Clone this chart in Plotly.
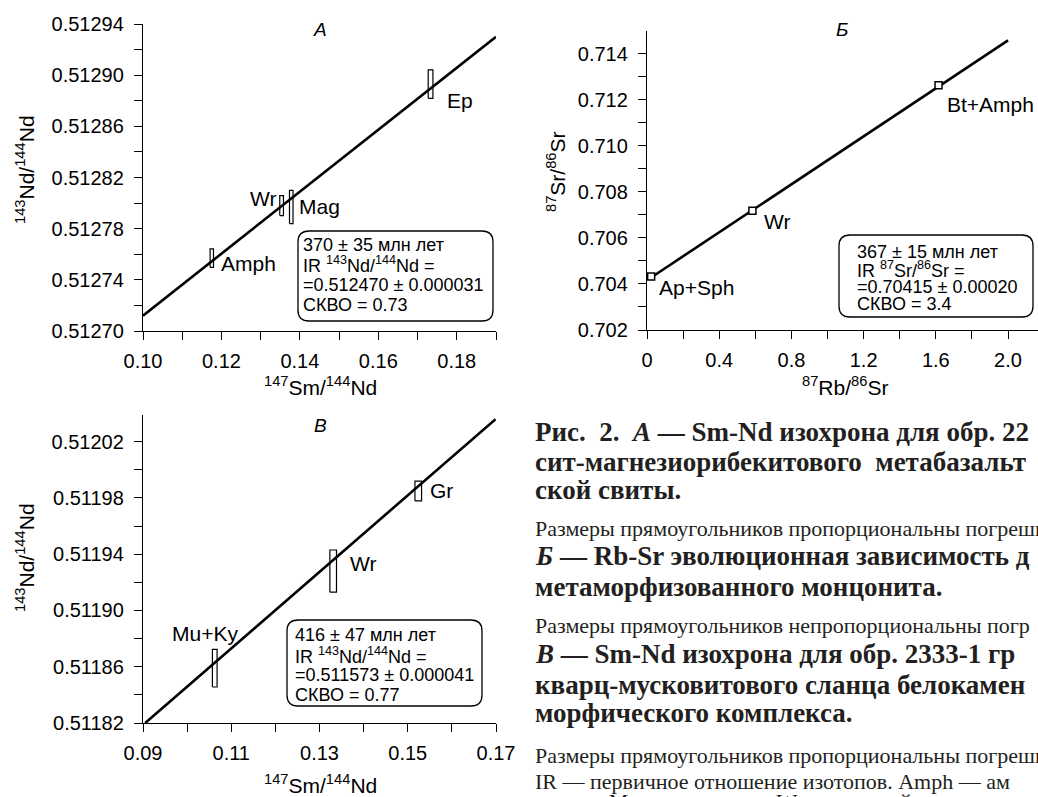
import plotly.graph_objects as go

W, H = 1038, 797

# ---------------- Data ----------------
# Panel A: Sm-Nd isochron
a_labels = ["Amph", "Wr", "Mag", "Ep"]
a_x = [0.11754, 0.13534, 0.13780, 0.17332]
a_y = [0.512757, 0.512798, 0.512797, 0.512893]
a_dx = [0.00043, 0.00047, 0.00045, 0.00060]
a_dy = [0.0000072, 0.0000078, 0.0000130, 0.0000111]
a_line_x = [0.10, 0.19]
a_line_y = [0.512712, 0.512930]

# Panel Б: Rb-Sr
b_labels = ["Ap+Sph", "Wr", "Bt+Amph"]
b_x = [0.023, 0.584, 1.615]
b_y = [0.70432, 0.70718, 0.71262]
b_line_x = [0.023, 2.0]
b_line_y = [0.70428, 0.71457]
b_xticks = [0, 0.4, 0.8, 1.2, 1.6, 2.0]
b_xticktext = ["0", "0.4", "0.8", "1.2", "1.6", "2.0"]

# Panel В: Sm-Nd isochron
c_labels = ["Mu+Ky", "Wr", "Gr"]
c_x = [0.10626, 0.1331, 0.15238]
c_y = [0.511859, 0.511928, 0.511985]
c_dx = [0.00053, 0.00075, 0.00075]
c_dy = [0.0000134, 0.0000150, 0.0000070]
c_line_x = [0.0905, 0.1699]
c_line_y = [0.511820, 0.512036]

# ---------------- helpers ----------------
def px(xp):
    return xp / W

def py(yp):
    return 1 - yp / H

def rect_poly(xs, ys, dxs, dys):
    X, Y = [], []
    for x, y, dx, dy in zip(xs, ys, dxs, dys):
        X += [x - dx, x + dx, x + dx, x - dx, x - dx, None]
        Y += [y - dy, y - dy, y + dy, y + dy, y - dy, None]
    return X, Y

def rounded_box(x0, y0, x1, y1, r=11):
    rx, ry = r / W, r / H
    X0, X1 = px(x0), px(x1)
    Y0, Y1 = py(y0), py(y1)
    return (f"M {X0+rx},{Y0} L {X1-rx},{Y0} Q {X1},{Y0} {X1},{Y0-ry} "
            f"L {X1},{Y1+ry} Q {X1},{Y1} {X1-rx},{Y1} "
            f"L {X0+rx},{Y1} Q {X0},{Y1} {X0},{Y1+ry} "
            f"L {X0},{Y0-ry} Q {X0},{Y0} {X0+rx},{Y0} Z")

SANS = "Liberation Sans, Arial, sans-serif"
SERIF = "Liberation Serif, Times New Roman, serif"

fig = go.Figure()

# ---- Panel A ----
fig.add_trace(go.Scatter(x=a_line_x, y=a_line_y, mode="lines",
                         line=dict(color="black", width=2.6),
                         xaxis="x", yaxis="y", showlegend=False, hoverinfo="skip"))
rx_, ry_ = rect_poly(a_x, a_y, a_dx, a_dy)
fig.add_trace(go.Scatter(x=rx_, y=ry_, mode="lines", line=dict(color="black", width=1.2),
                         xaxis="x", yaxis="y", showlegend=False, hoverinfo="skip"))

# ---- Panel Б ----
fig.add_trace(go.Scatter(x=b_line_x, y=b_line_y, mode="lines",
                         line=dict(color="black", width=2.6),
                         xaxis="x2", yaxis="y2", showlegend=False, hoverinfo="skip"))
fig.add_trace(go.Scatter(x=b_x, y=b_y, mode="markers",
                         marker=dict(symbol="square", size=7, color="white",
                                     line=dict(color="black", width=1.5)),
                         xaxis="x2", yaxis="y2", showlegend=False, hoverinfo="skip"))

# ---- Panel В ----
fig.add_trace(go.Scatter(x=c_line_x, y=c_line_y, mode="lines",
                         line=dict(color="black", width=2.6),
                         xaxis="x3", yaxis="y3", showlegend=False, hoverinfo="skip"))
rx_, ry_ = rect_poly(c_x, c_y, c_dx, c_dy)
fig.add_trace(go.Scatter(x=rx_, y=ry_, mode="lines", line=dict(color="black", width=1.2),
                         xaxis="x3", yaxis="y3", showlegend=False, hoverinfo="skip"))

axis_common = dict(showline=True, linecolor="black", linewidth=1.3, ticks="outside",
                   tickcolor="black", tickwidth=1.3, ticklen=8, showgrid=False,
                   zeroline=False, mirror=False, automargin=False,
                   tickfont=dict(family=SANS, size=20, color="black"),
                   fixedrange=True)

def minor(dt, t0):
    return dict(ticks="outside", ticklen=8, tickcolor="black", tickwidth=1.3,
                dtick=dt, tick0=t0, showgrid=False)

fig.update_layout(
    template="none",
    width=W, height=H, margin=dict(l=0, r=0, t=0, b=0, autoexpand=False),
    paper_bgcolor="white", plot_bgcolor="white", showlegend=False,
    xaxis=dict(axis_common, domain=[px(143), px(496)], range=[0.10, 0.19],
               tick0=0.10, dtick=0.02, tickformat=".2f", minor=minor(0.01, 0.10),
               anchor="y", ticklabelstandoff=4),
    yaxis=dict(axis_common, domain=[py(331), py(24)], range=[0.51270, 0.51294],
               tick0=0.51270, dtick=0.00004, tickformat=".5f", minor=minor(0.00002, 0.51270),
               anchor="x", ticklabelstandoff=6),
    xaxis2=dict(axis_common, domain=[px(647), 1.0], range=[0, 2.166],
                tickvals=b_xticks, ticktext=b_xticktext, minor=minor(0.2, 0),
                anchor="y2", ticklabelstandoff=4),
    yaxis2=dict(axis_common, domain=[py(330), py(31)], range=[0.702, 0.71498],
                tick0=0.702, dtick=0.002, tickformat=".3f", minor=minor(0.001, 0.702),
                anchor="x2", ticklabelstandoff=6),
    xaxis3=dict(axis_common, domain=[px(143), px(496)], range=[0.09, 0.17],
                tick0=0.09, dtick=0.02, tickformat=".2f", minor=minor(0.01, 0.09),
                anchor="y3", ticklabelstandoff=4),
    yaxis3=dict(axis_common, domain=[py(723), py(415)], range=[0.51182, 0.512039],
                tick0=0.51182, dtick=0.00004, tickformat=".5f", minor=minor(0.00002, 0.51182),
                anchor="x3", ticklabelstandoff=6),
)

ann = []
def A(**kw):
    base = dict(showarrow=False, font=dict(family=SANS, size=21, color="black"))
    base.update(kw)
    ann.append(base)

# point labels (data coords)
offs_a = [("left", 7, -5), ("right", -4, 7), ("left", 6, 0), ("left", 14, -16)]
for lab, x, y, (anc, xs, ys) in zip(a_labels, a_x, a_y, offs_a):
    A(x=x, y=y, xref="x", yref="y", text=lab, xanchor=anc, yanchor="middle", xshift=xs, yshift=ys)
offs_b = [("left", 6, -11), ("left", 10, -11), ("left", 6, -19)]
for lab, x, y, (anc, xs, ys) in zip(b_labels, b_x, b_y, offs_b):
    A(x=x, y=y, xref="x2", yref="y2", text=lab, xanchor=anc, yanchor="middle", xshift=xs, yshift=ys)
offs_c = [("center", -10, 35), ("left", 15, 8), ("left", 10, 0)]
for lab, x, y, (anc, xs, ys) in zip(c_labels, c_x, c_y, offs_c):
    A(x=x, y=y, xref="x3", yref="y3", text=lab, xanchor=anc, yanchor="middle", xshift=xs, yshift=ys)

# panel letters
for t, xp, yp in [("A", 320, 29), ("Б", 842, 29), ("В", 320, 425)]:
    A(x=px(xp), y=py(yp), xref="paper", yref="paper", text=f"<i>{t}</i>",
      xanchor="center", yanchor="middle", font=dict(family=SANS, size=19, color="black"))

# axis titles
for t, xp, yp in [("<sup>147</sup>Sm/<sup>144</sup>Nd", 320, 386),
                  ("<sup>87</sup>Rb/<sup>86</sup>Sr", 845, 386),
                  ("<sup>147</sup>Sm/<sup>144</sup>Nd", 320, 784)]:
    A(x=px(xp), y=py(yp), xref="paper", yref="paper", text=t, xanchor="center", yanchor="middle")
for t, xp, yp in [("<sup>143</sup>Nd/<sup>144</sup>Nd", 25, 170),
                  ("<sup>87</sup>Sr/<sup>86</sup>Sr", 556, 172),
                  ("<sup>143</sup>Nd/<sup>144</sup>Nd", 25, 558)]:
    A(x=px(xp), y=py(yp), xref="paper", yref="paper", text=t, textangle=-90,
      xanchor="center", yanchor="middle")

# info boxes
boxes = [
    ((298, 231, 493, 321), 301, [245, 265, 285, 305],
     ["370 ± 35 млн лет", "IR <sup>143</sup>Nd/<sup>144</sup>Nd =",
      "=0.512470 ± 0.000031", "СКВО = 0.73"]),
    ((839, 235, 1033, 317), 855, [252, 270, 287, 304],
     ["367 ± 15 млн лет", "IR <sup>87</sup>Sr/<sup>86</sup>Sr =",
      "=0.70415 ± 0.00020", "СКВО = 3.4"]),
    ((287, 620, 482, 706), 293, [635, 655, 675, 695],
     ["416 ± 47 млн лет", "IR <sup>143</sup>Nd/<sup>144</sup>Nd =",
      "=0.511573 ± 0.000041", "СКВО = 0.77"]),
]
shapes = []
for (x0, y0, x1, y1), tx, ys, lines in boxes:
    shapes.append(dict(type="path", xref="paper", yref="paper", path=rounded_box(x0, y0, x1, y1),
                       line=dict(color="black", width=1.3), fillcolor="white", layer="above"))
    for yy, t in zip(ys, lines):
        A(x=px(tx), y=py(yy), xref="paper", yref="paper", text=t, xanchor="left",
          yanchor="middle", font=dict(family=SANS, size=18, color="black"))

# caption
caption = [
    (432, True, "Рис.  2.  <i>А</i> — Sm-Nd изохрона для обр. 22"),
    (462, True, "сит-магнезиорибекитового  метабазальт"),
    (490, True, "ской свиты."),
    (528, False, "Размеры прямоугольников пропорциональны погрешн"),
    (556, True, "<i>Б</i> — Rb-Sr эволюционная зависимость д"),
    (587, True, "метаморфизованного монцонита."),
    (625, False, "Размеры прямоугольников непропорциональны погр"),
    (654, True, "<i>В</i> — Sm-Nd изохрона для обр. 2333-1 гр"),
    (685, True, "кварц-мусковитового сланца белокамен"),
    (713, True, "морфического комплекса."),
    (755, False, "Размеры прямоугольников пропорциональны погрешн"),
    (781, False, "IR — первичное отношение изотопов. Amph — ам"),
    (801, False, "эпидот, Mag — магнетит, Wr — валовой состав пород"),
]
for yy, bold, t in caption:
    txt = f"<b>{t}</b>" if bold else t
    A(x=px(533), y=py(yy), xref="paper", yref="paper", text=txt, xanchor="left",
      yanchor="middle", font=dict(family=SERIF, size=27 if bold else 22, color="#231f20"))

fig.update_layout(annotations=ann, shapes=shapes)
fig.write_html("out.html", config={"displayModeBar": False},
               post_script="document.body.style.margin='0';")
